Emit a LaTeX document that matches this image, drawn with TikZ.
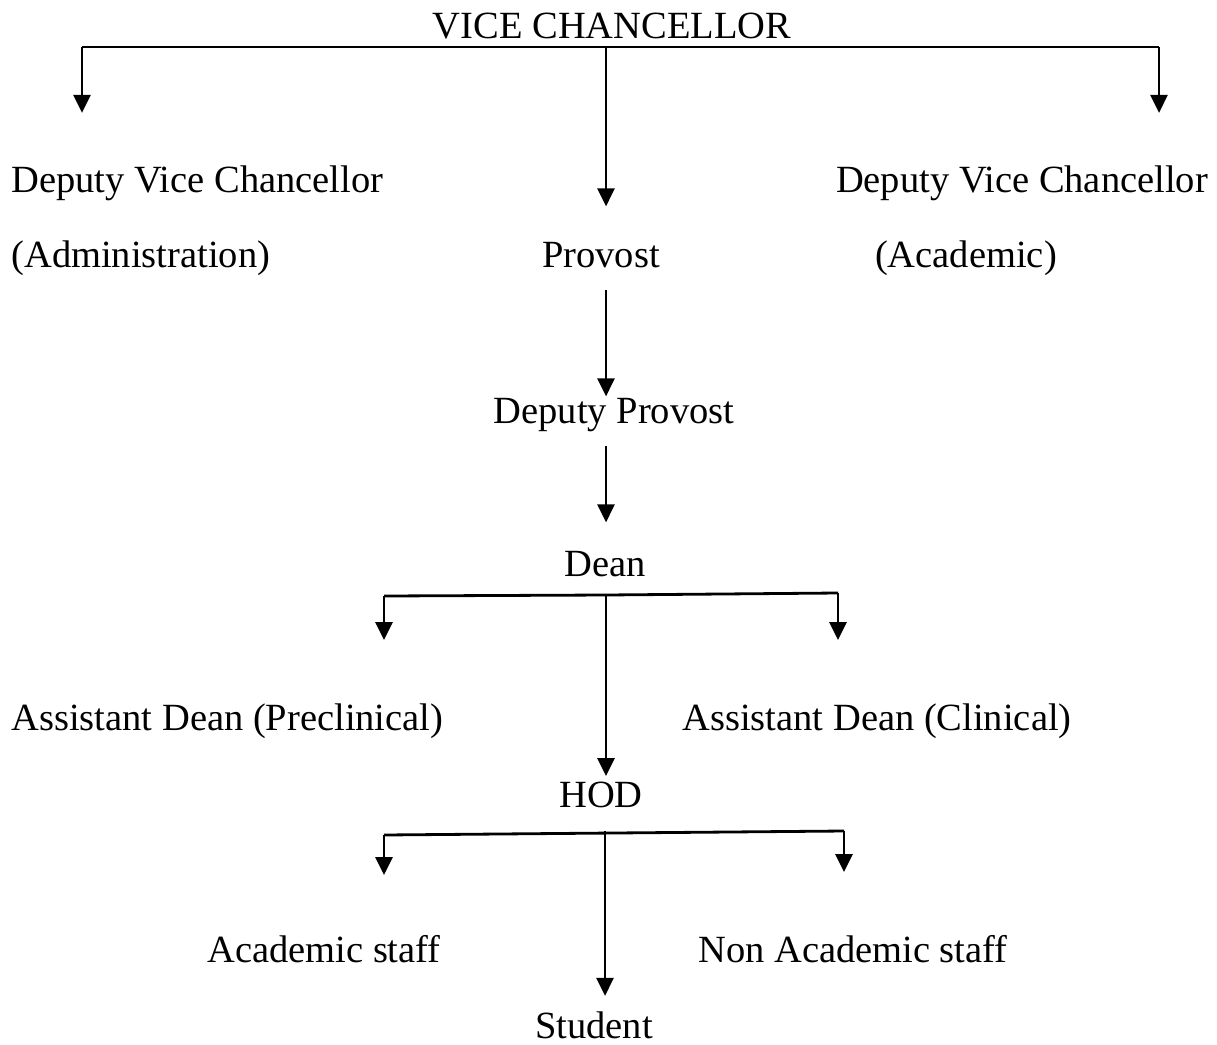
\documentclass[tikz,border=0pt]{standalone}
\usepackage{fontspec}
\setmainfont{Liberation Serif}
\usetikzlibrary{arrows.meta}

\tikzset{
  lbl/.style={inner sep=0pt, anchor=base, font=\fontsize{38.5}{44}\selectfont},
  arr/.style={-{Triangle[length=18pt,width=17pt]}},
}

\begin{document}
\begin{tikzpicture}[x=1pt,y=-1pt,line width=2.8pt]
                \useasboundingbox (0,0) rectangle (1217,1044);
                % labels
                \node[lbl] (vc) at (612,38) {VICE CHANCELLOR};
                \node[lbl,anchor=base west] (dvcadm) at (10,192) {Deputy Vice Chancellor};
                \node[lbl,anchor=base west] (adm) at (10,267) {(Administration)};
                \node[lbl] (dvcaca) at (1022,192) {Deputy Vice Chancellor};
                \node[lbl] (aca) at (966,267) {(Academic)};
                \node[lbl] (provost) at (601,267) {Provost};
                \node[lbl] (dprovost) at (614,423) {Deputy Provost};
                \node[lbl] (dean) at (605,576) {Dean};
                \node[lbl,anchor=base west] (adpre) at (10,730) {Assistant Dean (Preclinical)};
                \node[lbl] (adcli) at (877,730) {Assistant Dean (Clinical)};
                \node[lbl] (hod) at (601,807) {HOD};
                \node[lbl] (acstaff) at (324,962) {Academic staff};
                \node[lbl] (nacstaff) at (853,962) {Non Academic staff};
                \node[lbl] (student) at (594,1038) {Student};
                % junctions
                \coordinate (vcL) at (82,47);
                \coordinate (vcM) at (606,47);
                \coordinate (vcR) at (1159,47);
                \coordinate (deanL) at (384,596);
                \coordinate (deanM) at (606,595);
                \coordinate (deanR) at (838,593);
                \coordinate (hodL) at (384,835);
                \coordinate (hodM) at (605,831);
                \coordinate (hodR) at (844,831);
                % connectors
                \draw (vcL) -- (vcM) -- (vcR);
                \draw[arr,shorten >=51pt] (vcL) -- (vcL |- dvcadm.north);
                \draw[arr,shorten >=51pt] (vcR) -- (vcR |- dvcaca.north);
                \draw[arr,shorten >=34pt] (vcM) -- (vcM |- provost.north);
                \draw[arr,shorten <=21pt] (provost.south -| vcM) -- (dprovost.north -| vcM);
                \draw[arr,shorten <=13pt,shorten >=27pt] (dprovost.south -| vcM) -- (dean.north -| vcM);
                \draw (deanL) -- (deanM) -- (deanR);
                \draw[arr] (deanL) -- ++(0,44);
                \draw[arr] (deanR) -- ++(0,47);
                \draw[arr,shorten >=4pt] (deanM) -- (deanM |- hod.north);
                \draw (hodL) -- (hodR);
                \draw[arr] (hodL) -- ++(0,40);
                \draw[arr] (hodR) -- ++(0,41);
                \draw[arr,shorten >=14pt] (hodM) -- (hodM |- student.north);
            \end{tikzpicture}
\end{document}
